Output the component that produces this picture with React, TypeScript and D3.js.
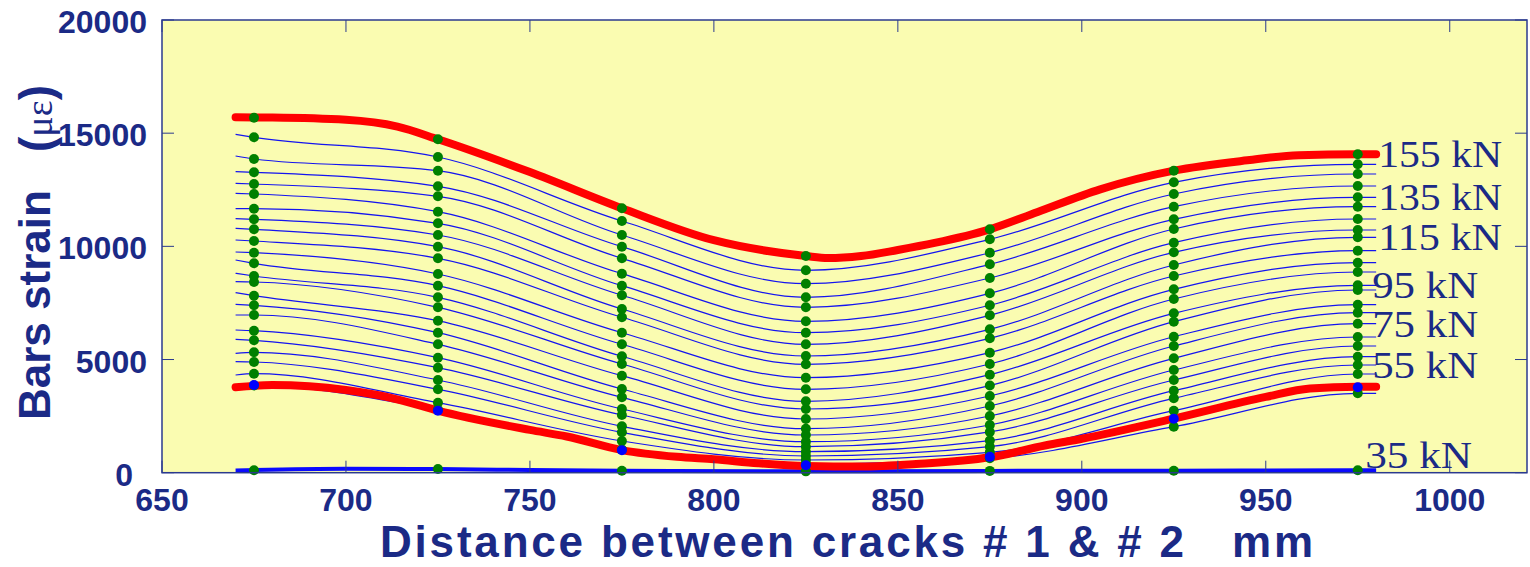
import React from "react";
import * as d3 from "d3";

// ---------- data ----------
// thin load-step lines: loads 45..150 kN
const loads = [45, 50, 55, 60, 65, 70, 75, 80, 85, 90, 95, 100, 105, 110, 115, 120, 125, 130, 135, 140, 145, 150];
// positions (mm) where the thin lines are read
const colPositions = [670, 675, 725, 775, 825, 875, 925, 975, 980];
// strain (µε) of every load line at each position
const col670 = [3800, 4316, 4904, 5275, 5893, 6305, 6967, 7440, 7952, 8438, 8808, 9397, 9750, 10280, 10797, 11222, 11663, 12343, 12785, 13298, 13992, 14950];
const col675 = [3850, 4374, 4891, 5319, 5849, 6274, 6967, 7396, 7820, 8425, 8690, 9251, 9719, 10236, 10753, 11195, 11663, 12313, 12755, 13272, 13859, 14818];
const col725 = [2780, 3093, 3685, 4096, 4639, 5081, 5673, 6185, 6715, 7307, 7749, 8262, 8779, 9472, 9985, 10502, 11018, 11531, 12211, 12653, 13343, 13948];
const col775 = [1020, 1400, 1785, 2050, 2549, 2814, 3331, 3698, 4286, 4802, 5143, 5673, 6185, 6866, 7232, 7838, 8262, 8792, 9472, 9985, 10502, 11120];
const col825 = [384, 561, 738, 928, 1149, 1370, 1666, 1944, 2373, 2814, 3154, 3685, 4197, 4789, 5156, 5673, 6185, 6689, 7307, 7749, 8350, 8942];
const col875 = [640, 900, 1150, 1420, 1800, 2108, 2505, 2947, 3389, 3850, 4330, 4802, 5302, 5938, 6335, 6954, 7396, 7926, 8602, 9207, 9719, 10311];
const col925 = [2032, 2739, 3287, 3623, 4096, 4537, 5054, 5598, 6008, 6671, 7042, 7674, 8102, 8690, 9176, 9737, 10162, 10767, 11195, 11752, 12313, 12830];
const col975 = [3508, 4360, 4758, 5125, 5598, 5995, 6583, 7069, 7422, 8072, 8279, 8867, 9278, 9808, 10400, 10723, 11209, 11752, 12167, 12667, 13197, 13625];
const col980 = [3508, 4360, 4758, 5125, 5598, 5995, 6583, 7069, 7422, 8072, 8279, 8867, 9278, 9808, 10400, 10723, 11209, 11752, 12167, 12667, 13197, 13625];
const columns = [col670, col675, col725, col775, col825, col875, col925, col975, col980];

// gauge positions (marker columns)
const gaugePositions = [675, 725, 775, 825, 875, 925, 975];

// 155 kN envelope (red, top)
const topX = [670, 680, 700, 714, 725, 750, 775, 800, 825, 831, 840, 850, 860, 875, 888, 905, 925, 945, 959, 975, 980];
const topY = [15700, 15690, 15590, 15290, 14730, 13280, 11681, 10270, 9574, 9480, 9570, 9840, 10150, 10753, 11520, 12520, 13343, 13800, 14030, 14067, 14067];
const topMarkers = [15684, 14730, 11681, 9574, 10753, 13343, 14067];

// lower red curve
const lowX = [670, 680, 700, 715, 725, 750, 760, 775, 790, 800, 812, 825, 840, 855, 875, 890, 900, 925, 950, 962, 975, 980];
const lowY = [3780, 3870, 3650, 3200, 2740, 1890, 1600, 1000, 700, 590, 420, 300, 270, 380, 680, 1200, 1500, 2390, 3350, 3720, 3800, 3800];
const lowMarkers = [3875, 2739, 990, 330, 700, 2386, 3773];

// 35 kN line
const baseX = [670, 700, 725, 750, 775, 825, 875, 925, 975, 980];
const baseY = [100, 170, 160, 120, 90, 60, 80, 90, 110, 110];
const baseMarkers = [110, 160, 90, 60, 80, 90, 110];

// labels
const labelLoads = [155, 135, 115, 95, 75, 55, 35];
const xTicks = [650, 700, 750, 800, 850, 900, 950, 1000];
const yTicks = [0, 5000, 10000, 15000, 20000];

// ---------- drawing ----------
const W = 1530;
const H = 567;
const L = 162, R = 1527, T = 20, B = 472.7;
const TEXT = "#1b2a86";
const AXIS = "#2b3a8e";
const SANS = "'Liberation Sans', Arial, sans-serif";
const SERIF = "'Liberation Serif', 'Times New Roman', serif";

export default function App() {
  const x = d3.scaleLinear().domain([650, 1021]).range([L, R]);
  const y = d3.scaleLinear().domain([0, 20000]).range([B, T]);
  const smooth = d3
    .line<[number, number]>()
    .x((d) => x(d[0]))
    .y((d) => y(d[1]))
    .curve(d3.curveMonotoneX);

  const thinLines = loads.map((load, i) => ({
    load,
    pts: colPositions.map((p, c) => [p, columns[c][i]] as [number, number]),
  }));
  const gaugeCols = gaugePositions.map((p) => colPositions.indexOf(p));

  const endValue = (load: number) => {
    if (load === 155) return topY[topY.length - 1];
    if (load === 35) return baseY[baseY.length - 1];
    return col980[loads.indexOf(load)];
  };

  return (
    <svg
      width={W}
      height={H}
      style={{ position: "absolute", left: 0, top: 0, background: "#ffffff" }}
    >
      <rect x={L} y={T} width={R - L} height={B - T} fill="#fafcb1" />

      {/* thin load lines */}
      {thinLines.map((ln) => (
        <path key={ln.load} d={smooth(ln.pts) || ""} fill="none" stroke="#1414f0" strokeWidth={1.2} />
      ))}

      {/* 35 kN */}
      <path
        d={smooth(baseX.map((v, i) => [v, baseY[i]] as [number, number])) || ""}
        fill="none"
        stroke="#0a0aff"
        strokeWidth={4}
      />

      {/* red curves */}
      <path
        d={smooth(lowX.map((v, i) => [v, lowY[i]] as [number, number])) || ""}
        fill="none"
        stroke="#ff0000"
        strokeWidth={8}
        strokeLinecap="round"
      />
      <path
        d={smooth(topX.map((v, i) => [v, topY[i]] as [number, number])) || ""}
        fill="none"
        stroke="#ff0000"
        strokeWidth={8}
        strokeLinecap="round"
      />

      {/* green markers on load lines */}
      {thinLines.map((ln) =>
        gaugeCols.map((c) => (
          <circle key={`${ln.load}-${c}`} cx={x(colPositions[c])} cy={y(ln.pts[c][1])} r={5} fill="#008000" />
        ))
      )}
      {gaugePositions.map((p, i) => (
        <circle key={`t${p}`} cx={x(p)} cy={y(topMarkers[i])} r={5} fill="#008000" />
      ))}
      {gaugePositions.map((p, i) => (
        <circle key={`b${p}`} cx={x(p)} cy={y(baseMarkers[i])} r={5} fill="#008000" />
      ))}
      {gaugePositions.map((p, i) => (
        <circle key={`l${p}`} cx={x(p)} cy={y(lowMarkers[i])} r={5} fill="#0000ff" />
      ))}

      {/* frame */}
      <rect x={L} y={T} width={R - L} height={B - T} fill="none" stroke={AXIS} strokeWidth={1.5} />
      {xTicks.map((t) => (
        <g key={`xt${t}`}>
          <line x1={x(t)} x2={x(t)} y1={B} y2={B - 12} stroke={AXIS} strokeWidth={1} />
          <line x1={x(t)} x2={x(t)} y1={T} y2={T + 12} stroke={AXIS} strokeWidth={1} />
          <text
            x={x(t)}
            y={511}
            textAnchor="middle"
            fontFamily={SANS}
            fontWeight="bold"
            fontSize={32}
            fill={TEXT}
          >
            {t}
          </text>
        </g>
      ))}
      {yTicks.map((t) => (
        <g key={`yt${t}`}>
          <line x1={L} x2={L + 12} y1={y(t)} y2={y(t)} stroke={AXIS} strokeWidth={1} />
          <line x1={R} x2={R - 12} y1={y(t)} y2={y(t)} stroke={AXIS} strokeWidth={1} />
          <text
            x={t === 0 ? 133 : 147}
            y={y(t) + 13}
            textAnchor="end"
            fontFamily={SANS}
            fontWeight="bold"
            fontSize={32}
            fill={TEXT}
          >
            {t}
          </text>
        </g>
      ))}

      {/* load labels */}
      {labelLoads.map((ld) => (
        <text
          key={`lab${ld}`}
          x={x(980) + (ld === 35 ? -11 : ld >= 100 ? 2 : -4)}
          y={Math.min(y(endValue(ld)) + 13, B - 5)}
          fontFamily={SERIF}
          fontSize={38}
          textLength={ld >= 100 ? 124 : ld === 35 ? 107 : 106}
          lengthAdjust="spacingAndGlyphs"
          fill={TEXT}
        >
          {`${ld} kN`}
        </text>
      ))}

      {/* axis titles */}
      <text
        x={380}
        y={557}
        fontFamily={SANS}
        fontWeight="bold"
        fontSize={44}
        fill={TEXT}
        textLength={933}
        lengthAdjust="spacing"
        style={{ whiteSpace: "pre" }}
      >
        {"Distance between cracks # 1 & # 2   mm"}
      </text>
      <text
        transform="translate(50,420) rotate(-90)"
        fontFamily={SANS}
        fontWeight="bold"
        fontSize={44}
        fill={TEXT}
      >
        Bars strain
      </text>
      <text
        transform="translate(52,152) rotate(-90)"
        fontFamily={SANS}
        fontWeight="bold"
        fontSize={46}
        fill={TEXT}
      >
        (<tspan fontFamily={SERIF} fontWeight="normal" fontSize={38}>με</tspan>)
      </text>
    </svg>
  );
}
